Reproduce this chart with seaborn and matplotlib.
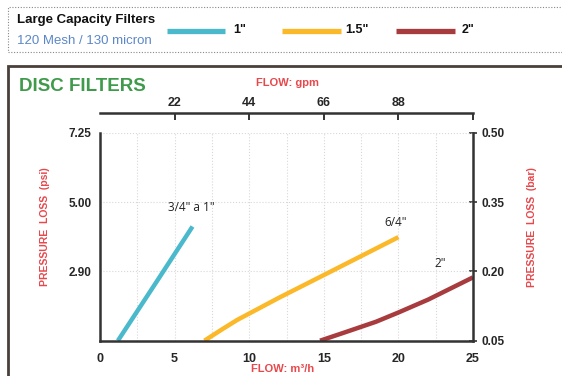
import matplotlib
matplotlib.use('Agg')
import matplotlib.pyplot as plt
import matplotlib.patches as mpatches
import matplotlib.lines as mlines
import numpy as np
import pandas as pd
import seaborn as sns

# --- dane (przepływ m3/h, spadek ciśnienia bar) ---
flow_1in = [1.2, 3.8, 6.2]
loss_1in = [0.05, 0.178, 0.297]

flow_15in = [7.0, 8.2, 9.2, 12.0, 15.0, 20.0]
loss_15in = [0.05, 0.075, 0.095, 0.143, 0.192, 0.274]

flow_2in = [14.75, 16.5, 18.5, 20.0, 22.0, 25.0]
loss_2in = [0.05, 0.069, 0.091, 0.111, 0.139, 0.187]

series_names = ['1"', '1.5"', '2"']
curve_labels = ['3/4" a 1"', '6/4"', '2"']
label_pos_x = [6.1, 19.8, 22.8]
label_pos_y = [0.339, 0.305, 0.217]

bar_ticks = [0.05, 0.20, 0.35, 0.50]
bar_labels = ['0.05', '0.20', '0.35', '0.50']
psi_labels = ['', '2.90', '5.00', '7.25']
gpm_ticks = [5, 10, 15, 20, 25]
gpm_labels = ['22', '44', '66', '88', '']
m3h_ticks = [0, 5, 10, 15, 20, 25]

colors = ['#4bb9cc', '#fbb829', '#a83b3d']
RED = '#e8474b'
FONT = ['Liberation Sans', 'DejaVu Sans']

df = pd.concat([
    pd.DataFrame({'flow': flow_1in, 'loss': loss_1in, 'size': series_names[0]}),
    pd.DataFrame({'flow': flow_15in, 'loss': loss_15in, 'size': series_names[1]}),
    pd.DataFrame({'flow': flow_2in, 'loss': loss_2in, 'size': series_names[2]}),
])

sns.set_style('white')
plt.rcParams['font.family'] = FONT

fig = plt.figure(figsize=(5.62, 3.76), dpi=100)
ax = fig.add_axes([100 / 562, 1 - 340.7 / 376, 373 / 562, 208 / 376])

sns.lineplot(data=df, x='flow', y='loss', hue='size', palette=colors,
             linewidth=3.2, legend=False, sort=False, ax=ax,
             solid_capstyle='butt', solid_joinstyle='round')

ax.set_xlim(0, 25)
ax.set_ylim(0.05, 0.50)

# siatka
xt = np.arange(0, 25.1, 2.5)
ax.set_xticks(xt)
ax.set_xticklabels([str(int(v)) if v in m3h_ticks else '' for v in xt])
ax.set_yticks(bar_ticks)
ax.set_yticklabels(psi_labels)
ax.grid(True, color='#d8d8d8', linestyle=':', linewidth=0.8)

for side in ['left', 'bottom', 'right']:
    ax.spines[side].set_visible(True)
    ax.spines[side].set_color('#333333')
    ax.spines[side].set_linewidth(1.8)
ax.spines['top'].set_visible(False)

ax.tick_params(axis='x', direction='out', length=5, width=1.4, color='#333333',
               labelsize=9, pad=4)
ax.tick_params(axis='y', direction='inout', length=6, width=1.2, color='#333333',
               labelsize=8.5, pad=3)
for lbl in ax.get_xticklabels() + ax.get_yticklabels():
    lbl.set_fontweight('bold')

# prawa oś (bar)
ax_r = ax.secondary_yaxis('right')
ax_r.set_yticks(bar_ticks)
ax_r.set_yticklabels(bar_labels)
ax_r.spines['right'].set_visible(False)
ax_r.tick_params(direction='inout', length=6, width=1.2, color='#333333',
                 labelsize=8.5, pad=3)
for lbl in ax_r.get_yticklabels():
    lbl.set_fontweight('bold')

# górna oś (gpm)
ax_t = ax.secondary_xaxis(1.093)
ax_t.set_xticks(gpm_ticks)
ax_t.set_xticklabels(gpm_labels)
ax_t.spines['top'].set_color('#333333')
ax_t.spines['top'].set_linewidth(1.8)
ax_t.tick_params(direction='in', length=5, width=1.4, color='#333333',
                 labelsize=9, pad=3)
for lbl in ax_t.get_xticklabels():
    lbl.set_fontweight('bold')

ax.set_xlabel('')
ax.set_ylabel('')

for name, x, y in zip(curve_labels, label_pos_x, label_pos_y):
    ax.text(x, y, name, ha='center', va='center', fontsize=8.5,
            color='#222222', family=['Open Sans', 'DejaVu Sans'])

# opisy osi
fig.text(45 / 562, 1 - 226.7 / 376, 'PRESSURE  LOSS  (psi)', rotation=90,
         ha='center', va='center', color=RED, fontsize=7.5, fontweight='bold')
fig.text(531.7 / 562, 1 - 226.7 / 376, 'PRESSURE  LOSS  (bar)', rotation=90,
         ha='center', va='center', color=RED, fontsize=7.5, fontweight='bold')
fig.text(283 / 562, 1 - 369.5 / 376, 'FLOW: m³/h', ha='center', va='center',
         color=RED, fontsize=8, fontweight='bold')
fig.text(287 / 562, 1 - 83.3 / 376, 'FLOW: gpm', ha='center', va='center',
         color=RED, fontsize=8, fontweight='bold')

# nagłówek z legendą
fig.patches.append(mpatches.Rectangle((8 / 562, 1 - 51.7 / 376), 600 / 562, 45 / 376,
                                      transform=fig.transFigure, fill=False,
                                      linestyle=(0, (1, 1.5)), linewidth=0.8,
                                      edgecolor='#888888'))
fig.text(16.7 / 562, 1 - 20 / 376, 'Large Capacity Filters', ha='left', va='center',
         fontsize=9.5, fontweight='bold', color='#111111')
fig.text(16.7 / 562, 1 - 41.5 / 376, '120 Mesh / 130 micron', ha='left', va='center',
         fontsize=9.5, color='#5b87c9')

leg_x = [(166.7, 225, 233), (281.7, 340.7, 345), (396, 455, 461.7)]
for (x0, x1, xt_), c, name in zip(leg_x, colors, series_names):
    fig.lines.append(mlines.Line2D([x0 / 562, x1 / 562], [1 - 30.5 / 376] * 2,
                                   transform=fig.transFigure, color=c,
                                   linewidth=3.8, solid_capstyle='butt'))
    fig.text(xt_ / 562, 1 - 30 / 376, name, ha='left', va='center',
             fontsize=9, fontweight='bold', color='#111111')

# ramka sekcji
fig.patches.append(mpatches.Rectangle((8 / 562, -0.1), 600 / 562, 1 - 66 / 376 + 0.1,
                                      transform=fig.transFigure, fill=False,
                                      linewidth=2, edgecolor='#4a403b'))
fig.text(19 / 562, 1 - 86.5 / 376, 'DISC FILTERS', ha='left', va='center',
         fontsize=13.5, fontweight='bold', color='#3f9a4c')

fig.savefig('out.png', dpi=100)
